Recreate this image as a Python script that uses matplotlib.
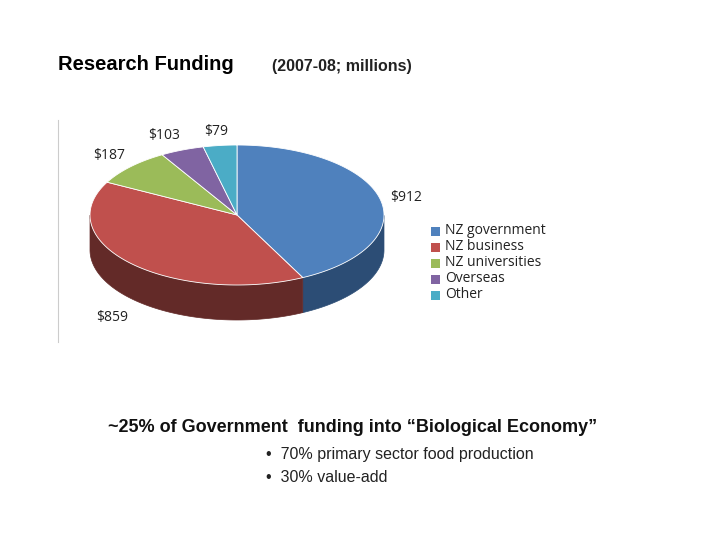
import numpy as np
import matplotlib
matplotlib.use("Agg")
import matplotlib.pyplot as plt
from matplotlib.patches import Polygon, Rectangle

categories = ["NZ government", "NZ business", "NZ universities", "Overseas", "Other"]
values = [912, 859, 187, 103, 79]
value_labels = ["$912", "$859", "$187", "$103", "$79"]
top_colors = ["#4F81BD", "#C0504D", "#9BBB59", "#8064A2", "#4BACC6"]
side_colors = ["#2C4D75", "#632A28", "#5E7530", "#4D3B63", "#2B7A8E"]

fig = plt.figure(figsize=(7.2, 5.4), dpi=100)
ax = fig.add_axes([0, 0, 1, 1])
ax.set_xlim(0, 720); ax.set_ylim(540, 0); ax.axis("off")

# chart box
ax.add_patch(Rectangle((57, 120), 496, 222, facecolor="white", edgecolor="none"))
ax.plot([57.5, 57.5], [120, 342], color="#cccccc", lw=0.8)

cx, cy, rx, ry, depth = 237, 215, 147, 70, 35
total = sum(values)
start = 90.0
angles = []
for v in values:
    end = start - 360 * v / total
    angles.append((start, end))
    start = end

def pt(t, dy=0):
    r = np.radians(t)
    return cx + rx * np.cos(r), cy - ry * np.sin(r) + dy

for (a0, a1), sc in zip(angles, side_colors):
    ts = np.linspace(a0, a1, 300)
    tm = ((ts + 180) % 360) - 180
    front = ts[(tm < 0) & (tm > -180)]
    if len(front) < 2:
        continue
    top = [pt(t) for t in front]
    bot = [pt(t, depth) for t in front[::-1]]
    ax.add_patch(Polygon(top + bot, closed=True, facecolor=sc, edgecolor=sc, lw=0.5))

for (a0, a1), tc in zip(angles, top_colors):
    ts = np.linspace(a0, a1, 300)
    pts = [(cx, cy)] + [pt(t) for t in ts]
    ax.add_patch(Polygon(pts, closed=True, facecolor=tc, edgecolor="white", lw=0.6))

lab_pos = [(390, 197), (96, 318), (93, 155), (148, 135), (204, 131)]
for (x, y), s in zip(lab_pos, value_labels):
    ax.text(x, y, s, fontsize=10, family="Open Sans", color="#222222", va="center", ha="left")

for i, (c, tc) in enumerate(zip(categories, top_colors)):
    y = 231 + i * 16
    ax.add_patch(Rectangle((431, y - 4.5), 9, 9, facecolor=tc, edgecolor="none"))
    ax.text(445, y, c, fontsize=10, family="Open Sans", color="#222222", va="center")

ax.text(58, 65, "Research Funding", fontsize=14.5, fontweight="bold", family="Liberation Sans", va="center")
ax.text(272, 66, "(2007-08; millions)", fontsize=11.5, fontweight="bold", family="Liberation Sans", va="center", color="#222222")
ax.text(108, 428, "~25% of Government  funding into \u201cBiological Economy\u201d", fontsize=13,
        fontweight="bold", family="Liberation Sans", va="center", color="#111111")
ax.text(266, 455, "\u2022  70% primary sector food production", fontsize=11.5,
        family="Liberation Sans", va="center", color="#222222")
ax.text(266, 477, "\u2022  30% value-add", fontsize=11.5,
        family="Liberation Sans", va="center", color="#222222")

fig.savefig("out.png", dpi=100)
